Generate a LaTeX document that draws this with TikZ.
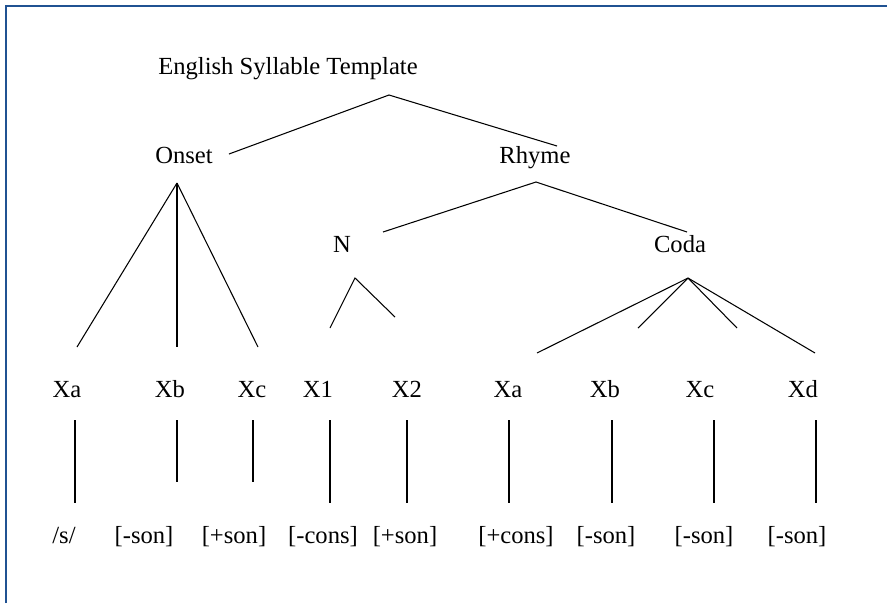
\documentclass[tikz,border=0pt]{standalone}
\usepackage{fontspec}
\setmainfont{Liberation Serif}
\usepackage{tikz}
\usetikzlibrary{calc}
\definecolor{framecol}{RGB}{32,82,146}

\begin{document}
\begin{tikzpicture}[x=0.03cm, y=-0.03cm,
		every node/.style={inner sep=0pt, anchor=base, font=\fontsize{21}{25}\selectfont},
		branch/.style={line width=0.9pt}]
				\useasboundingbox (0,0) rectangle (887,603);
				\draw[framecol, line width=2.2pt] (6,603) -- (6,6) -- (887,6);
				% upper tiers
				\node (Tmpl) at (288, 74) {English Syllable Template};
				\node (Ons) at (184, 163) {Onset};
				\node (Rhy) at (535, 163) {Rhyme};
				\node (N) at (342, 252) {N};
				\node (Cod) at (680, 252) {Coda};
				% skeleton
				\node (Xa) at (67, 397) {Xa};
				\node (Xb) at (170, 397) {Xb};
				\node (Xc) at (252, 397) {Xc};
				\node (X1) at (318, 397) {X1};
				\node (X2) at (407, 397) {X2};
				\node (Ya) at (508, 397) {Xa};
				\node (Yb) at (605, 397) {Xb};
				\node (Yc) at (700, 397) {Xc};
				\node (Yd) at (803, 397) {Xd};
				% features
				\node (F1) at (64, 543) {/s/};
				\node (F2) at (144, 543) {[-son]};
				\node (F3) at (234, 543) {[+son]};
				\node (F4) at (323, 543) {[-cons]};
				\node (F5) at (405, 543) {[+son]};
				\node (F6) at (516, 543) {[+cons]};
				\node (F7) at (606, 543) {[-son]};
				\node (F8) at (704, 543) {[-son]};
				\node (F9) at (797, 543) {[-son]};
				% branches
				\coordinate (Tf) at ($(Tmpl.base)+(101,21)$);
				\coordinate (Of) at ($(Ons.base)+(-7,20)$);
				\coordinate (Rf) at ($(Rhy.base)+(1,19)$);
				\coordinate (Nf) at ($(N.base)+(13,26)$);
				\coordinate (Cf) at ($(Cod.base)+(8,26)$);
				\draw[branch] ($(Ons.base)+(45,-9)$) -- (Tf) -- ($(Rhy.base)+(22,-17)$);
				\draw[branch] (Of) -- ($(Xa.base)+(10,-50)$);
				\draw[branch] (Of) -- ($(Xb.base)+(7,-50)$);
				\draw[branch] (Of) -- ($(Xc.base)+(6,-50)$);
				\draw[branch] ($(N.base)+(41,-20)$) -- (Rf) -- ($(Cod.base)+(7,-20)$);
				\draw[branch] ($(X1.base)+(12,-69)$) -- (Nf) -- ($(X2.base)+(-12,-80)$);
				\draw[branch] (Cf) -- ($(Ya.base)+(29,-44)$);
				\draw[branch] (Cf) -- ($(Yb.base)+(33,-69)$);
				\draw[branch] (Cf) -- ($(Yc.base)+(37,-69)$);
				\draw[branch] (Cf) -- ($(Yd.base)+(12,-44)$);
				% stems down to the features
				\foreach \n/\dx/\len in {Xa/8/83, Xb/7/62, Xc/1/62, X1/12/83, X2/0/83, Ya/1/83, Yb/7/83, Yc/14/83, Yd/13/83}
					\draw[branch] (\n.base) ++(\dx,23) -- ++(0,\len);
			\end{tikzpicture}
\end{document}
